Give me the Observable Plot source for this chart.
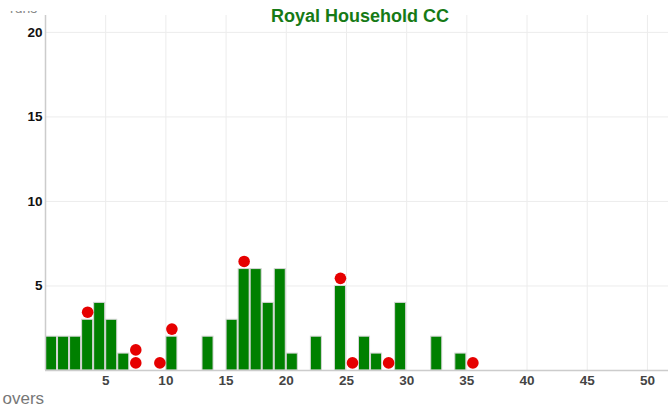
<!DOCTYPE html>
<html>
<head>
<meta charset="utf-8">
<script src="https://cdn.jsdelivr.net/npm/d3@7"></script>
<script src="https://cdn.jsdelivr.net/npm/@observablehq/plot@0.6"></script>
<style>
  html, body { margin: 0; padding: 0; background: #fff; }
  #wrap { position: relative; width: 668px; height: 407px; overflow: hidden; }
  #runs { position: absolute; left: 10px; top: 11px; height: 6px; width: 40px; overflow: hidden; }
  #runs span { position: absolute; left: 0; top: -11px; font: 14px/16px "Liberation Sans", Arial, sans-serif; color: #888; }
</style>
</head>
<body>
<div id="wrap"><div id="runs"><span>runs</span></div></div>
<script>
const title = "Royal Household CC";
const overs = d3.range(1, 37);
const runs = [2, 2, 2, 3, 4, 3, 1, 0, 0, 0, 2, 0, 0, 2, 0, 3, 6, 6, 4, 6, 1, 0, 2, 0, 5, 0, 2, 1, 0, 4, 0, 0, 2, 0, 1, 0];
const wicketOvers = [4, 8, 10, 11, 17, 25, 26, 29, 36];
const wicketCounts = [1, 2, 1, 1, 1, 1, 1, 1, 1];
const xTicks = [5, 10, 15, 20, 25, 30, 35, 40, 45, 50];
const yTicks = [5, 10, 15, 20];

const bars = overs.map((o, i) => ({over: o, runs: runs[i]})).filter(d => d.runs > 0);
const wickets = [];
wicketOvers.forEach((o, i) => {
  for (let k = 0; k < wicketCounts[i]; k++) {
    wickets.push({over: o - 0.5, y: runs[o - 1] + 0.45 + 0.77 * k});
  }
});

const chart = Plot.plot({
  width: 668,
  height: 407,
  marginTop: 15,
  marginBottom: 37,
  marginLeft: 45,
  marginRight: 0,
  style: {fontFamily: "'Liberation Sans', Arial, sans-serif", overflow: "hidden"},
  x: {domain: [0, 51.75]},
  y: {domain: [0, 21]},
  marks: [
    Plot.gridX(xTicks, {stroke: "#ececec", strokeOpacity: 1}),
    Plot.gridY(yTicks, {stroke: "#ececec", strokeOpacity: 1}),
    Plot.rectY(bars, {x1: d => d.over - 1, x2: d => d.over, y: "runs", fill: "#008000", stroke: "#d6d6d6", strokeWidth: 1, insetLeft: 0.5, insetRight: 0.5}),
    Plot.ruleX([0], {stroke: "#cccccc", strokeWidth: 1.5}),
    Plot.ruleY([0], {stroke: "#cccccc", strokeWidth: 1.5}),
    Plot.dot(wickets, {x: "over", y: "y", r: 5.8, fill: "#e60000", stroke: "none"}),
    Plot.axisX(xTicks, {tickSize: 0, tickPadding: 5, fontSize: 13.5, fill: "#444", fontWeight: 600, label: null}),
    Plot.axisY(yTicks, {tickSize: 0, tickPadding: 3, fontSize: 13.5, fill: "#111", fontWeight: "bold", label: null}),
    Plot.text([title], {frameAnchor: "top", dx: 3, dy: -6, fontSize: 18, fontWeight: "bold", fill: "#167a16", lineAnchor: "top"}),
    Plot.text(["overs"], {frameAnchor: "bottom-left", dx: -43, dy: 33, fontSize: 17, fill: "#777", textAnchor: "start", lineAnchor: "bottom"})
  ]
});
document.getElementById("wrap").insertBefore(chart, document.getElementById("runs"));
chart.style.position = "absolute";
chart.style.left = "0";
chart.style.top = "0";
</script>
</body>
</html>
